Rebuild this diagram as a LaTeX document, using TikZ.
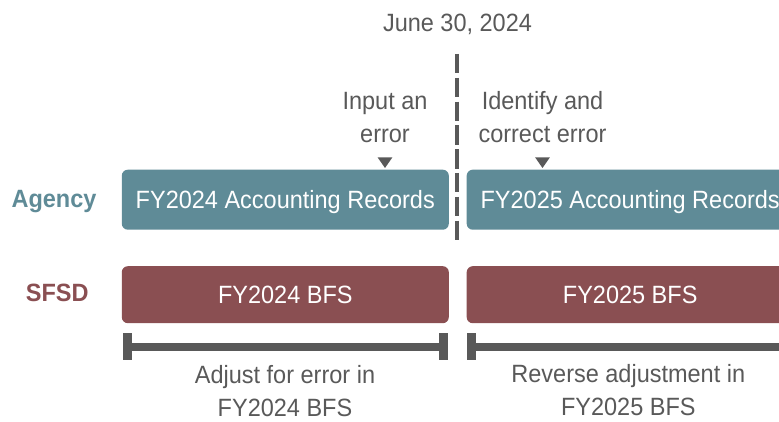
\documentclass[tikz,border=0pt]{standalone}
\usepackage{fontspec}
\setmainfont{Liberation Sans}[FakeStretch=0.94]

\definecolor{agencyteal}{HTML}{5F8B97}
\definecolor{sfsdred}{HTML}{8A4F52}
\definecolor{markgray}{HTML}{595959}

\tikzset{
  rec/.style={shape=rectangle,rounded corners=6pt,inner sep=0pt,minimum width=327pt,text=white,text height=17.9pt,text depth=0pt,font=\fontsize{25}{30}\selectfont},
  agencyrec/.style={rec,fill=agencyteal,minimum height=60pt},
  sfsdrec/.style={rec,fill=sfsdred,minimum height=57pt},
  note/.style={align=center,text=markgray,inner sep=0pt,anchor=base,font=\fontsize{25}{33}\selectfont},
  rowlabel/.style={inner sep=0pt,text height=17.9pt,text depth=0pt,font=\bfseries\fontsize{25}{30}\selectfont},
  cutoff/.style={draw=markgray,line width=4pt,dash pattern=on 19.5pt off 4.3pt},
  span/.style={draw=markgray,line width=8pt},
  spanend/.style={draw=markgray,line width=9pt},
}

\begin{document}
\begin{tikzpicture}[x=1pt,y=-1pt]
\clip (0,0) rectangle (779,422);

\node[agencyrec] (0) at (285.3,199.7) {FY2024 Accounting Records};
\node[agencyrec] (1) at (630.2,199.7) {FY2025 Accounting Records};
\node[sfsdrec] (2) at (285.3,294.7) {FY2024 BFS};
\node[sfsdrec] (3) at (630.2,294.7) {FY2025 BFS};

\node[rowlabel,text=agencyteal] (agency) at (54,198.3) {Agency};
\node[rowlabel,text=sfsdred] (sfsd) at (57.3,292.5) {SFSD};

% base of a two line note is its second line
\node[note] (date) at (457.5,31.7) {June 30, 2024};
\node[note] (input) at (385,143) {Input an\\error};
\node[note] (identify) at (542.5,142.5) {Identify and\\correct error};
\node[note] (adjust) at (285,416.3) {Adjust for error in\\FY2024 BFS};
\node[note] (reverse) at (628.3,415.9) {Reverse adjustment in\\FY2025 BFS};

% year end cut-off
\coordinate (cuttop) at (456.5,54);
\coordinate (cutbot) at (456.5,243);
\path[cutoff] (cuttop) edge (cutbot);

% markers under the notes
\coordinate (t0) at (385,168);
\coordinate (t1) at (542.5,168);
\fill[markgray] (t0) -- ++(-7.3,-10.5) -- ++(14.6,0) -- cycle;
\fill[markgray] (t1) -- ++(-7.3,-10.5) -- ++(14.6,0) -- cycle;

% adjustment spans
\coordinate (b0l) at (127.2,346.7);
\coordinate (b0r) at (443.5,346.7);
\coordinate (b1l) at (471,346.7);
\coordinate (b1r) at (800,346.7);
\path[span] (b0l) edge (b0r);
\path[span] (b1l) edge (b1r);
\path[spanend] ([yshift=13.3pt]b0l) edge ([yshift=-13.3pt]b0l);
\path[spanend] ([yshift=13.3pt]b0r) edge ([yshift=-13.3pt]b0r);
\path[spanend] ([yshift=13.3pt]b1l) edge ([yshift=-13.3pt]b1l);
\end{tikzpicture}
\end{document}
